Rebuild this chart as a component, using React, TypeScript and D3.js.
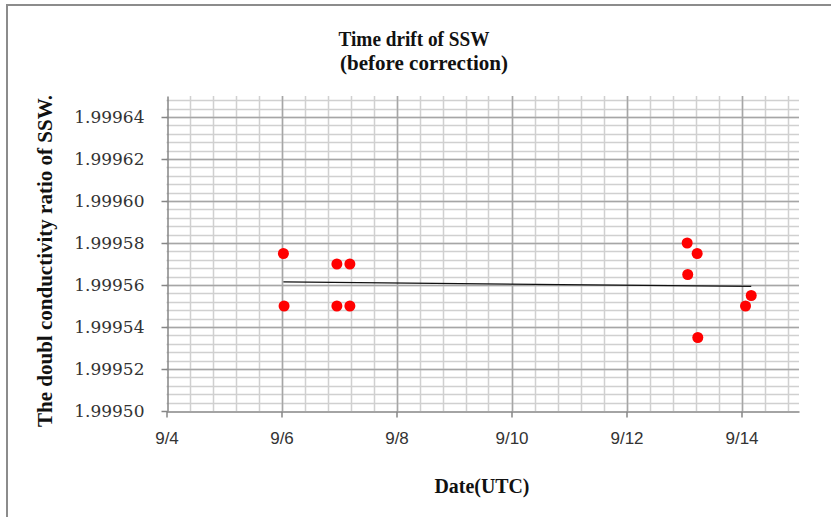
import React, { useEffect, useRef } from "react";
import * as d3 from "d3";

const width = 831;
const height = 517;

// day of September (UTC, fractional) and measured ratio
const obsDays = [6.033, 6.045, 6.963, 6.963, 7.189, 7.189, 13.055, 13.065, 13.229, 13.24, 14.07, 14.169];
const obsRatio = [1.999575, 1.99955, 1.99957, 1.99955, 1.99957, 1.99955, 1.99958, 1.999565, 1.999575, 1.999535, 1.99955, 1.999555];

const xTickDays = [4, 6, 8, 10, 12, 14];
const xTickLabels = ["9/4", "9/6", "9/8", "9/10", "9/12", "9/14"];
const yTicks = [1.9995, 1.99952, 1.99954, 1.99956, 1.99958, 1.9996, 1.99962, 1.99964];

const dayToDate = (d: number) => new Date(Date.UTC(2012, 8, 1) + (d - 1) * 864e5);

const boldSerif = "'Liberation Serif', 'Times New Roman', serif";

export default function App() {
  const ref = useRef<SVGSVGElement>(null);

  useEffect(() => {
    const svg = d3.select(ref.current);
    svg.selectAll("*").remove();

    const margin = { top: 96, right: 32, bottom: 106, left: 166.5 };

    const x = d3.scaleUtc()
      .domain([dayToDate(4), dayToDate(15)])
      .range([margin.left, width - margin.right]);

    const y = d3.scaleLinear()
      .domain([1.9995, 1.99965])
      .range([height - margin.bottom, margin.top]);

    // chart area border (left + top only visible)
    svg.append("path")
      .attr("d", `M7,${height} V5 H${width}`)
      .attr("fill", "none")
      .attr("stroke", "#8c8c8c")
      .attr("stroke-width", 2);

    const grid = svg.append("g");

    // minor grid: every 0.4 day / every 0.000004
    d3.range(1, 28).forEach(k => {
      const xx = Math.round(x(dayToDate(4 + k * 0.4))) + 0.5;
      grid.append("line")
        .attr("x1", xx).attr("x2", xx)
        .attr("y1", y.range()[0]).attr("y2", y.range()[1])
        .attr("stroke", "#d0d0d0").attr("stroke-width", 1.5);
    });
    d3.range(1, 38).forEach(k => {
      const yy = Math.round(y(1.9995 + k * 0.000004)) + 0.5;
      grid.append("line")
        .attr("x1", x.range()[0]).attr("x2", x.range()[1])
        .attr("y1", yy).attr("y2", yy)
        .attr("stroke", "#d0d0d0").attr("stroke-width", 1.5);
    });

    // major grid
    xTickDays.slice(1).forEach(d => {
      const xx = Math.round(x(dayToDate(d))) + 0.5;
      grid.append("line")
        .attr("x1", xx).attr("x2", xx)
        .attr("y1", y.range()[0]).attr("y2", y.range()[1])
        .attr("stroke", "#a6a6a6").attr("stroke-width", 1.5);
    });
    yTicks.slice(1).forEach(v => {
      const yy = Math.round(y(v)) + 0.5;
      grid.append("line")
        .attr("x1", x.range()[0]).attr("x2", x.range()[1])
        .attr("y1", yy).attr("y2", yy)
        .attr("stroke", "#a6a6a6").attr("stroke-width", 1.5);
    });

    // axes
    const xAxis = d3.axisBottom(x)
      .tickValues(xTickDays.map(dayToDate))
      .tickFormat((d, i) => xTickLabels[i])
      .tickSize(6)
      .tickSizeOuter(0);

    const gx = svg.append("g")
      .attr("transform", `translate(0, ${Math.round(y(1.9995)) + 0.5})`)
      .call(xAxis);
    gx.select(".domain").attr("stroke", "#868686").attr("stroke-width", 1.5);
    gx.selectAll(".tick line").attr("stroke", "#868686").attr("stroke-width", 1.5);
    gx.selectAll(".tick text")
      .attr("dy", "1.4em")
      .style("font-family", "'Liberation Sans', Arial, sans-serif")
      .style("font-size", "17px")
      .attr("fill", "#333");

    const yAxis = d3.axisLeft(y)
      .tickValues(yTicks)
      .tickFormat(d3.format(".5f"))
      .tickSize(6)
      .tickSizeOuter(0);

    const gy = svg.append("g")
      .attr("transform", `translate(${Math.round(x.range()[0]) + 0.5}, 0)`)
      .call(yAxis);
    gy.select(".domain").attr("stroke", "#868686").attr("stroke-width", 1.5);
    gy.selectAll(".tick line").attr("stroke", "#868686").attr("stroke-width", 1.5);
    gy.selectAll(".tick text")
      .attr("x", -23)
      .style("font-family", "'DejaVu Serif', serif")
      .style("font-size", "17px")
      .attr("fill", "#333");

    // linear trendline (least squares)
    const mx = d3.mean(obsDays) as number;
    const my = d3.mean(obsRatio) as number;
    const sxy = d3.sum(obsDays, (d, i) => (d - mx) * (obsRatio[i] - my));
    const sxx = d3.sum(obsDays, d => (d - mx) * (d - mx));
    const slope = sxy / sxx;
    const [dMin, dMax] = d3.extent(obsDays) as [number, number];
    const fit = (d: number) => my + slope * (d - mx);

    svg.append("line")
      .attr("x1", x(dayToDate(dMin))).attr("y1", y(fit(dMin)))
      .attr("x2", x(dayToDate(dMax))).attr("y2", y(fit(dMax)))
      .attr("stroke", "#111")
      .attr("stroke-width", 1.2);

    // observations
    svg.selectAll("circle.obs")
      .data(obsDays)
      .enter()
      .append("circle")
      .attr("class", "obs")
      .attr("cx", d => x(dayToDate(d)))
      .attr("cy", (d, i) => y(obsRatio[i]))
      .attr("r", 5.5)
      .attr("fill", "#ff0000");

    // titles
    const title = svg.append("text")
      .attr("text-anchor", "middle")
      .style("font-family", boldSerif)
      .style("font-weight", "bold")
      .style("font-size", "20px")
      .attr("fill", "#111");
    title.append("tspan").attr("x", 414).attr("y", 46)
      .attr("textLength", 151).attr("lengthAdjust", "spacingAndGlyphs")
      .text("Time drift of SSW");
    title.append("tspan").attr("x", 424).attr("y", 70)
      .attr("textLength", 168).attr("lengthAdjust", "spacingAndGlyphs")
      .text("(before correction)");

    svg.append("text")
      .attr("transform", `translate(52, ${261}) rotate(-90)`)
      .attr("text-anchor", "middle")
      .style("font-family", boldSerif)
      .style("font-weight", "bold")
      .style("font-size", "20px")
      .attr("fill", "#111")
      .attr("textLength", 332).attr("lengthAdjust", "spacingAndGlyphs")
      .text("The doubl conductivity ratio of SSW.");

    svg.append("text")
      .attr("x", 482)
      .attr("y", 493)
      .attr("text-anchor", "middle")
      .style("font-family", boldSerif)
      .style("font-weight", "bold")
      .style("font-size", "20px")
      .attr("fill", "#111")
      .attr("textLength", 95).attr("lengthAdjust", "spacingAndGlyphs")
      .text("Date(UTC)");
  }, []);

  return (
    <div style={{ position: "absolute", left: 0, top: 0 }}>
      <svg ref={ref} width={width} height={height} style={{ display: "block", background: "#fff" }} />
    </div>
  );
}
